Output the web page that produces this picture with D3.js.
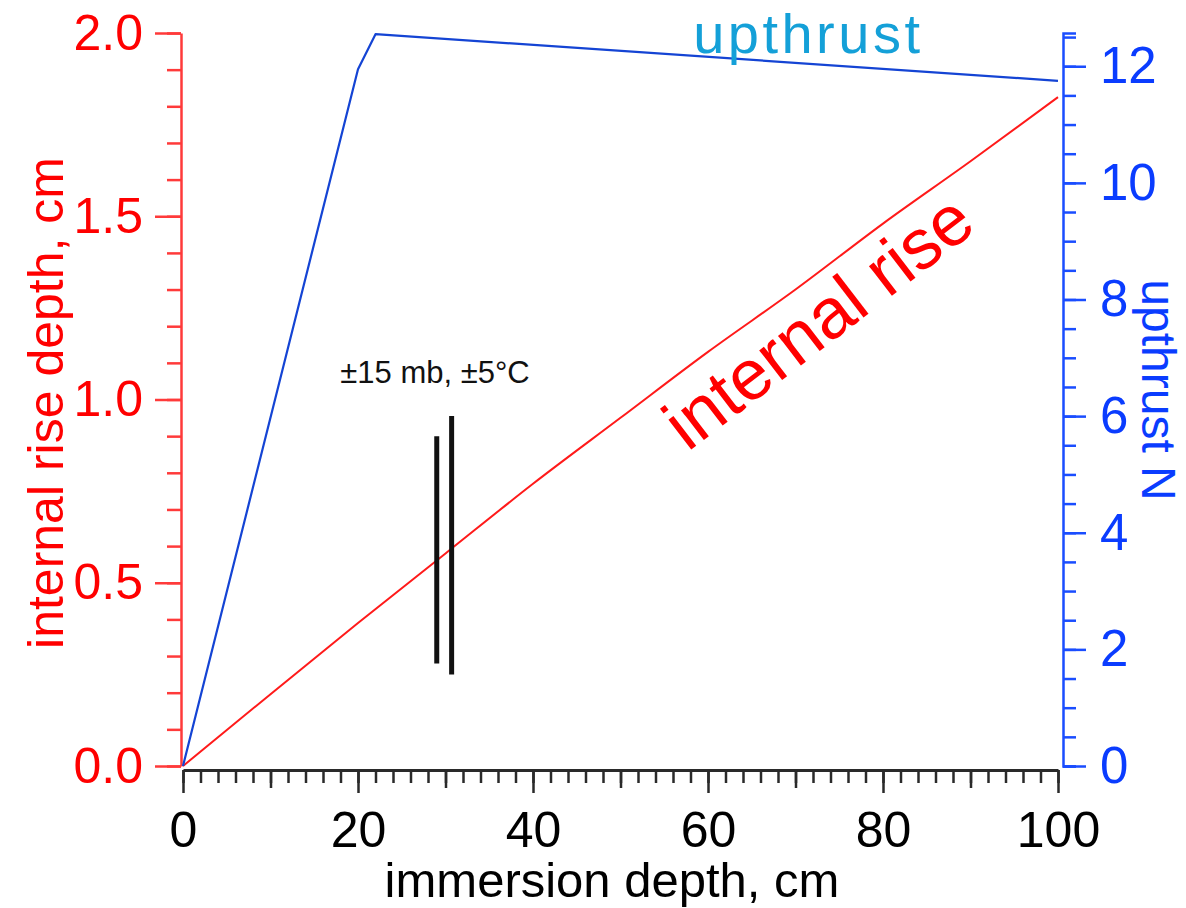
<!DOCTYPE html>
<html>
<head>
<meta charset="utf-8">
<script src="https://cdn.jsdelivr.net/npm/d3@7"></script>
<style>
  html, body { margin: 0; padding: 0; background: #fff; }
  svg { display: block; }
  text { font-family: "Liberation Sans", Arial, Helvetica, sans-serif; }
</style>
</head>
<body>
<svg id="chart" width="1186" height="908"></svg>
<script>
// Immersion depth (cm) and the internal rise depth (cm) it produces
const riseDepth = [0, 10, 20, 30, 40, 50, 60, 70, 80, 90, 100];
const riseValue = [0, 0.196, 0.39, 0.58, 0.77, 0.95, 1.13, 1.30, 1.48, 1.65, 1.825];

// Upthrust (N) against immersion depth (cm)
const upthrustDepth = [0, 20, 22, 100];
const upthrustValue = [0, 11.95, 12.55, 11.75];

// Uncertainty bars: ±15 mb, ±5°C
const errDepth = [29.0, 30.7];
const errLow = [0.28, 0.25];
const errHigh = [0.90, 0.955];

// Tick values
const xMajorTicks = [0, 20, 40, 60, 80, 100];
const xMidTicks = [10, 30, 50, 70, 90];
const xMinorTicks = d3.range(0, 101, 2);
const leftMajorTicks = [0, 0.5, 1.0, 1.5, 2.0];
const leftMinorTicks = d3.range(0, 21, 1).map(d => d / 10);
const rightMajorTicks = [0, 2, 4, 6, 8, 10, 12];
const rightMinorTicks = d3.range(0, 26, 1).map(d => d / 2);

const RED = "#ff1a1a";
const AXIS_RED = "#ff3a3a";
const BLUE_LINE = "#1444d4";
const AXIS_BLUE = "#1a4dff";
const DARK = "#2a2a2a";

const svg = d3.select("#chart");

const x = d3.scaleLinear().domain([0, 100]).range([183, 1058]);
const yL = d3.scaleLinear().domain([0, 2]).range([766, 33]);
const yR = d3.scaleLinear().domain([0, 12.57]).range([766, 33]);

function styleAxis(g, color, width) {
  g.select(".domain").attr("stroke", color).attr("stroke-width", width);
  g.selectAll(".tick line").attr("stroke", color).attr("stroke-width", 2.5);
}

// ---- bottom axis: minor / mid / major ticks
const xAxisY = 770;
const gxMinor = svg.append("g").attr("transform", `translate(0,${xAxisY})`)
  .call(d3.axisBottom(x).tickValues(xMinorTicks).tickSize(13).tickSizeOuter(0).tickFormat(""));
styleAxis(gxMinor, DARK, 3);
const gxMid = svg.append("g").attr("transform", `translate(0,${xAxisY})`)
  .call(d3.axisBottom(x).tickValues(xMidTicks).tickSize(18).tickSizeOuter(0).tickFormat(""));
gxMid.select(".domain").remove();
styleAxis(gxMid, DARK, 3);
const gxMajor = svg.append("g").attr("transform", `translate(0,${xAxisY})`)
  .call(d3.axisBottom(x).tickValues(xMajorTicks).tickSize(23).tickSizeOuter(0).tickPadding(18).tickFormat(d3.format("d")));
gxMajor.select(".domain").remove();
styleAxis(gxMajor, DARK, 3);
gxMajor.selectAll(".tick text")
  .attr("fill", "#000").attr("font-size", 50)
  .attr("font-family", "'Liberation Sans', Arial, sans-serif");

// ---- left axis (internal rise depth)
const leftX = 181;
const glMinor = svg.append("g").attr("transform", `translate(${leftX},0)`)
  .call(d3.axisLeft(yL).tickValues(leftMinorTicks).tickSize(14).tickSizeOuter(0).tickFormat(""));
styleAxis(glMinor, AXIS_RED, 2.5);
const glMajor = svg.append("g").attr("transform", `translate(${leftX},0)`)
  .call(d3.axisLeft(yL).tickValues(leftMajorTicks).tickSize(26).tickSizeOuter(0).tickPadding(12).tickFormat(d3.format(".1f")));
glMajor.select(".domain").remove();
styleAxis(glMajor, AXIS_RED, 2.5);
glMajor.selectAll(".tick text")
  .attr("fill", "#ff0000").attr("font-size", 50)
  .attr("font-family", "'Liberation Sans', Arial, sans-serif");

// ---- right axis (upthrust)
const rightX = 1063;
const grMinor = svg.append("g").attr("transform", `translate(${rightX},0)`)
  .call(d3.axisRight(yR).tickValues(rightMinorTicks).tickSize(13).tickSizeOuter(13).tickFormat(""));
styleAxis(grMinor, AXIS_BLUE, 2.5);
const grMajor = svg.append("g").attr("transform", `translate(${rightX},0)`)
  .call(d3.axisRight(yR).tickValues(rightMajorTicks).tickSize(23).tickSizeOuter(0).tickPadding(14).tickFormat(d3.format("d")));
grMajor.select(".domain").remove();
styleAxis(grMajor, AXIS_BLUE, 2.5);
grMajor.selectAll(".tick text")
  .attr("fill", "#0a3cff").attr("font-size", 51)
  .attr("font-family", "'Liberation Sans', Arial, sans-serif");

// ---- axis titles
svg.append("text")
  .attr("x", 612).attr("y", 897)
  .attr("text-anchor", "middle")
  .attr("font-size", 49).attr("fill", "#000")
  .text("immersion depth, cm");

svg.append("text")
  .attr("transform", "translate(63,403) rotate(-90)")
  .attr("text-anchor", "middle")
  .attr("font-size", 50).attr("fill", "#ff0000")
  .text("internal rise depth, cm");

svg.append("text")
  .attr("transform", "translate(1142,390) rotate(90)")
  .attr("text-anchor", "middle")
  .attr("font-size", 48).attr("fill", "#0a3cff")
  .text("upthrust N");

// ---- data lines
const riseLine = d3.line()
  .x((d, i) => x(riseDepth[i]))
  .y(d => yL(d))
  .curve(d3.curveMonotoneX);
svg.append("path")
  .datum(riseValue)
  .attr("d", riseLine)
  .attr("fill", "none")
  .attr("stroke", RED)
  .attr("stroke-width", 2);

const upLine = d3.line()
  .x((d, i) => x(upthrustDepth[i]))
  .y(d => yR(d));
svg.append("path")
  .datum(upthrustValue)
  .attr("d", upLine)
  .attr("fill", "none")
  .attr("stroke", BLUE_LINE)
  .attr("stroke-width", 2.2)
  .attr("stroke-linejoin", "round");

// ---- uncertainty bars
svg.append("g").selectAll("line")
  .data(errDepth)
  .join("line")
  .attr("x1", d => x(d)).attr("x2", d => x(d))
  .attr("y1", (d, i) => yL(errHigh[i]))
  .attr("y2", (d, i) => yL(errLow[i]))
  .attr("stroke", "#111")
  .attr("stroke-width", 5);

svg.append("text")
  .attr("x", x(28.8)).attr("y", yL(1.044))
  .attr("text-anchor", "middle")
  .attr("font-size", 31).attr("fill", "#111")
  .text("±15 mb, ±5°C");

// ---- series labels
svg.append("text")
  .attr("x", x(58.3)).attr("y", yR(12.22))
  .attr("font-family", "'Open Sans', 'Noto Sans', sans-serif")
  .attr("font-size", 56).attr("letter-spacing", 3.5).attr("fill", "#14a0d8")
  .text("upthrust");

svg.append("text")
  .attr("transform", `translate(${x(74.3)},${yL(1.16)}) rotate(-37.5)`)
  .attr("text-anchor", "middle")
  .attr("font-family", "'Open Sans', 'Noto Sans', sans-serif")
  .attr("font-size", 71).attr("fill", "#ff0000")
  .text("internal rise");
</script>
</body>
</html>
